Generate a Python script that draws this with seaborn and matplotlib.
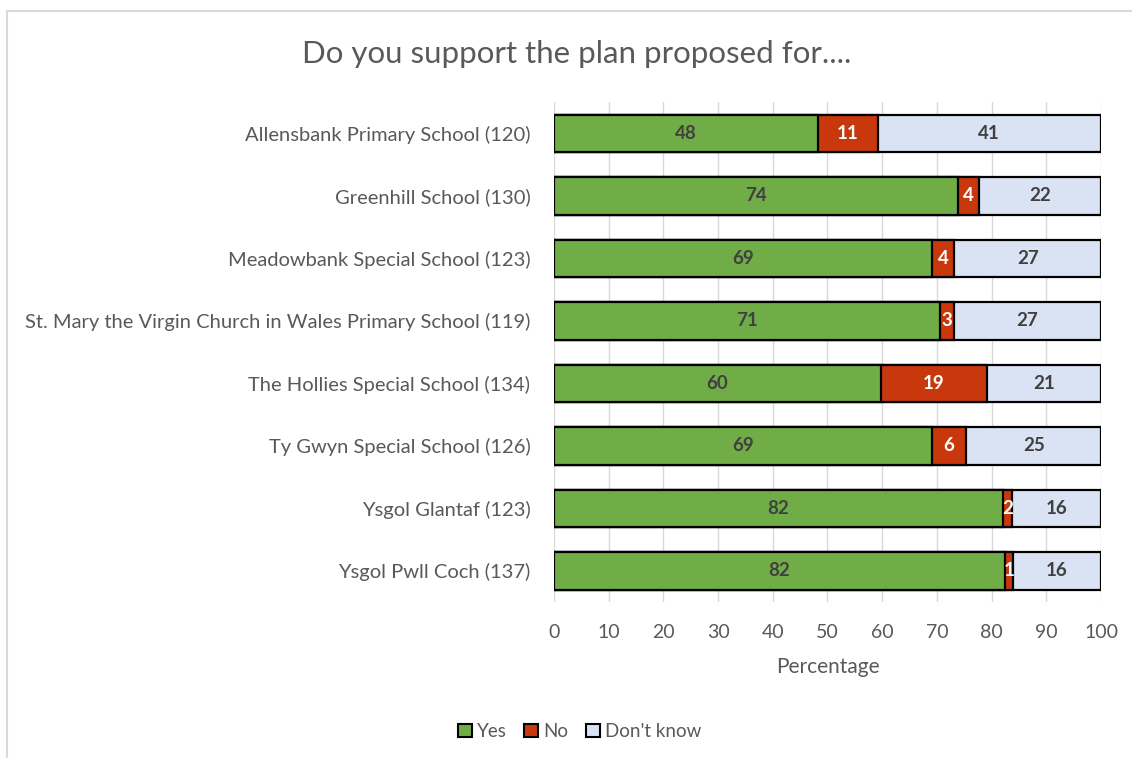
import matplotlib
matplotlib.use("Agg")
import matplotlib.pyplot as plt
import seaborn as sns
import pandas as pd
from matplotlib.patches import Patch, Rectangle

schools = [
    "Allensbank Primary School (120)",
    "Greenhill School (130)",
    "Meadowbank Special School (123)",
    "St. Mary the Virgin Church in Wales Primary School (119)",
    "The Hollies Special School (134)",
    "Ty Gwyn Special School (126)",
    "Ysgol Glantaf (123)",
    "Ysgol Pwll Coch (137)",
]
yes_pct = [48.33, 73.85, 69.11, 70.59, 59.70, 69.05, 82.11, 82.48]
no_pct = [10.83, 3.85, 4.07, 2.52, 19.40, 6.35, 1.63, 1.46]
dk_pct = [40.83, 22.31, 26.83, 26.89, 20.90, 24.60, 16.26, 16.06]
yes_labels = [48, 74, 69, 71, 60, 69, 82, 82]
no_labels = [11, 4, 4, 3, 19, 6, 2, 1]
dk_labels = [41, 22, 27, 27, 21, 25, 16, 16]
series = ["Yes", "No", "Don't know"]
x_ticks = [0, 10, 20, 30, 40, 50, 60, 70, 80, 90, 100]

GREEN = "#70AD47"
RED = "#C9380C"
LIGHT = "#DAE3F3"
TXT = "#595959"

sns.set_theme(style="white")
plt.rcParams["font.family"] = ["Lato", "DejaVu Sans"]

df = pd.DataFrame({"school": schools, "yes": yes_pct, "no": no_pct, "dk": dk_pct})
df["cum_no"] = df["yes"] + df["no"]
df["cum_dk"] = df["cum_no"] + df["dk"]

fig = plt.figure(figsize=(11.32, 7.58), dpi=100)
ax = fig.add_axes([0.4894, 0.2058, 0.4832, 0.6596])

common = dict(orient="h", width=0.6, saturation=1, edgecolor="black", linewidth=1.6, ax=ax)
sns.barplot(data=df, x="cum_dk", y="school", color=LIGHT, **common)
sns.barplot(data=df, x="cum_no", y="school", color=RED, **common)
sns.barplot(data=df, x="yes", y="school", color=GREEN, **common)

for i in range(len(schools)):
    y0 = df["yes"][i]
    n0 = df["no"][i]
    d0 = df["dk"][i]
    ax.text(y0 / 2, i, str(yes_labels[i]), ha="center", va="center",
            fontsize=13.5, fontweight="bold", color="#404040")
    ax.text(y0 + n0 / 2, i, str(no_labels[i]), ha="center", va="center",
            fontsize=13.5, fontweight="bold", color="white")
    ax.text(y0 + n0 + d0 / 2, i, str(dk_labels[i]), ha="center", va="center",
            fontsize=13.5, fontweight="bold", color="#404040")

ax.set_xlim(0, 100)
ax.set_xticks(x_ticks)
ax.set_axisbelow(True)
ax.xaxis.grid(True, color="#D9D9D9", linewidth=1)
for s in ax.spines.values():
    s.set_visible(False)
ax.tick_params(axis="x", length=5, color="#D9D9D9", labelsize=14, labelcolor=TXT, pad=11)
ax.tick_params(axis="y", length=0, labelsize=14.5, labelcolor=TXT, pad=17)
ax.set_ylabel("")
ax.set_xlabel("Percentage", fontsize=15, color=TXT, labelpad=11)

fig.text(0.509, 0.929, "Do you support the plan proposed for....", ha="center", va="center",
         fontsize=22.5, color=TXT)

handles = [Patch(facecolor=c, edgecolor="black", linewidth=1.5) for c in (GREEN, RED, LIGHT)]
leg = fig.legend(handles, series, loc="center", bbox_to_anchor=(0.512, 0.035), ncol=3,
                 frameon=False, handlelength=0.75, handleheight=0.75, handletextpad=0.3,
                 columnspacing=0.9, fontsize=13.5)
for t in leg.get_texts():
    t.set_color(TXT)

fig.patches.append(Rectangle((7 / 1132, -0.01), 1.05, 1 - 11 / 758 + 0.01, transform=fig.transFigure,
                             fill=False, edgecolor="#D9D9D9", linewidth=1.5))

fig.savefig("out.png", dpi=100)
